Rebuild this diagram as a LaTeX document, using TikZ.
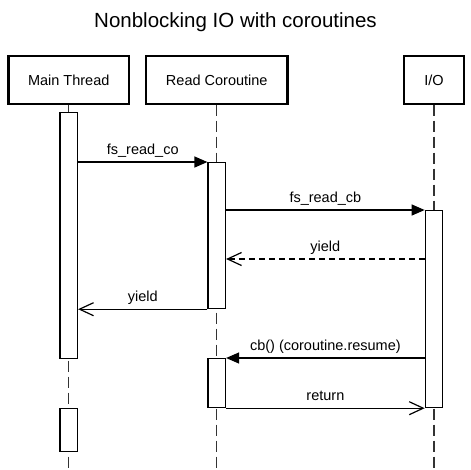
\documentclass[tikz,border=0pt]{standalone}
\usepackage{fontspec}
\setmainfont{Liberation Sans}
\usetikzlibrary{positioning,arrows.meta}
\newcommand\lblsize{\fontsize{14.5}{17}\selectfont}

\begin{document}
\begin{tikzpicture}[x=1pt,y=-1pt,
 head/.style={draw,line width=2.2pt,minimum height=47.5pt,anchor=north,inner sep=0pt,font=\lblsize},
 act/.style={draw,line width=1.2pt,fill=white,minimum width=17.5pt,anchor=north,inner sep=0pt},
 life/.style={line width=1.3pt,dash pattern=on 11pt off 5pt,draw=black!80},
 msg/.style={line width=1.2pt},
 call/.style={msg,-{Triangle[length=13pt,width=11pt]}},
 back/.style={msg,-{Straight Barb[length=14pt,width=13pt]}},
 lbl/.style={font=\lblsize,anchor=base,midway,yshift=8pt}]

 \useasboundingbox (0,0) rectangle (471,469);
 \node[font=\fontsize{20.5}{24}\selectfont,anchor=base] (title) at (235.5,27) {Nonblocking IO with coroutines};

 % heads
 \node[head,minimum width=120.5pt] (main) at (68.75,55) {Main Thread};
 \node[head,minimum width=141.5pt] (rco) at (216.75,55) {Read Coroutine};
 \node[head,minimum width=60pt] (io) at (434,55) {I/O};

 % lifelines
 \coordinate (mainEnd) at (68.75,469);
 \coordinate (rcoEnd) at (216.75,469);
 \coordinate (ioEnd) at (434,469);
 \draw[life] (main.south) -- (mainEnd);
 \draw[life] (rco.south) -- (rcoEnd);
 \draw[life] (io.south) -- (ioEnd);

 % activations
 \node[act,minimum height=246pt] (mainA1) at (68.75,112) {};
 \node[act,minimum height=43.5pt] (mainA2) at (68.75,407.5) {};
 \node[act,minimum height=146pt] (rcoA1) at (216.75,162) {};
 \node[act,minimum height=49pt] (rcoA2) at (216.75,358) {};
 \node[act,minimum height=197pt] (ioA) at (434,210) {};

 % messages
 \draw[call] (mainA1.east |- rcoA1.north) -- node[lbl] (lCo) {fs\_read\_co} (rcoA1.north west);
 \draw[call] (rcoA1.east |- ioA.north) -- node[lbl] (lCb) {fs\_read\_cb} (ioA.north west);
 \coordinate (yld) at ([yshift=-49pt]ioA.north west);
 \draw[back,dash pattern=on 6pt off 4pt] (yld) -- node[lbl] (lYld1) {yield} (rcoA1.east |- yld);
 \draw[back] (rcoA1.south west) -- node[lbl] (lYld2) {yield} (mainA1.east |- rcoA1.south);
 \draw[call] (ioA.west |- rcoA2.north) -- node[lbl] (lRes) {cb() (coroutine.resume)} (rcoA2.north east);
 \draw[back] (rcoA2.south east) -- node[lbl] (lRet) {return} (ioA.south west);
\end{tikzpicture}
\end{document}
